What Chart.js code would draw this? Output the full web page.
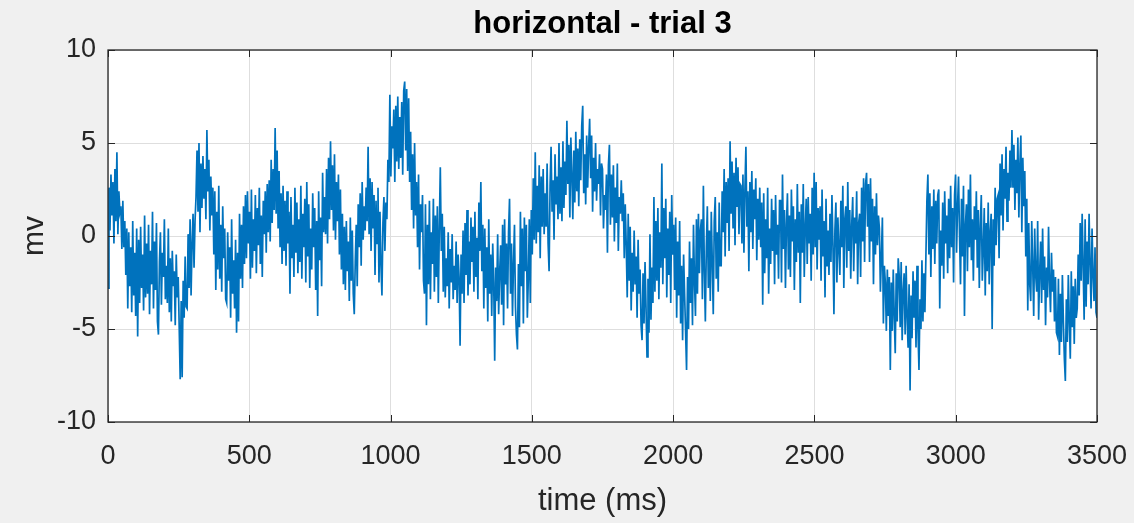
<!DOCTYPE html>
<html>
<head>
<meta charset="utf-8">
<title>horizontal - trial 3</title>
<script src="https://cdn.jsdelivr.net/npm/chart.js@4/dist/chart.umd.min.js"></script>
<style>
  html, body { margin: 0; padding: 0; background: #f0f0f0; }
  #wrap { width: 1134px; height: 523px; }
</style>
</head>
<body>
<div id="wrap"><canvas id="trial"></canvas></div>
<script>
// EOG channel, horizontal, trial 3 -- one sample every 3.5 ms, values in mV
// (each row below covers 70 ms)
const sampleMs = 3.5;
const mv = [
  -2.8, 2.6, 0.3, 3.3, 1.1, 2.9, -0.4, 3.6, 0.8, 4.5, 0.1, 2.4, 1.3, 1.6, -0.7, 1.9, -0.6, 0.8, -2.1, 0.4,
  -3.9, 0.2, -2.7, -0.6, -4.1, 0.8, -3.2, -0.9, -4.3, 0.4, -5.4, -0.2, -3.6, 0.5, -2.8, -1.0, -4.0, 1.1, -3.3, -0.4,
  -3.1, 0.6, -4.2, -0.8, -2.6, 1.3, -3.9, -0.3, -2.9, 0.7, -4.6, -5.3, -1.4, 0.2, -3.7, -0.9, -2.2, 0.9, -3.4, -1.6,
  -3.6, 0.4, -4.1, -1.2, -4.6, -0.8, -2.7, -1.9, -4.8, -1.0, -3.3, -2.2, -4.9, -7.7, -3.5, -7.6, -2.4, -4.4, -1.1, -3.8,
  -3.9, 0.1, -2.8, 0.9, -3.2, -0.4, 1.2, -1.7, 0.8, 2.1, 4.6, 1.3, 5.0, 0.2, 3.9, 1.5, 4.3, 2.0, 3.6, 0.9,
  5.7, 2.4, 4.1, 0.3, 3.2, 1.1, 2.6, -1.0, 2.4, -2.9, 1.3, -1.8, 2.7, -2.3, 0.6, -3.0, 1.6, -1.2, 0.4, -3.4,
  -3.6, 0.2, -2.4, -0.6, -4.4, 0.9, -3.1, -1.3, -3.9, -0.2, -5.2, -0.9, -4.6, 1.2, -2.3, 0.6, -2.8, 1.6, -1.5, 2.2,
  -1.2, 2.4, -0.4, 1.3, -2.3, 2.5, -1.7, 0.9, -0.8, 2.2, -2.0, 1.5, -0.5, 2.6, -1.5, 1.1, -2.2, 1.9, 0.1, 2.4,
  -0.9, 2.8, 0.2, 3.0, -0.3, 4.1, 0.7, 3.6, 1.4, 5.8, 1.2, 4.6, 0.4, 3.5, -0.6, 2.3, -1.5, 2.7, -0.8, 1.9,
  -1.6, 2.4, -0.4, 1.3, -3.1, 2.1, -1.2, 0.6, -2.2, 2.6, -0.9, 1.8, -2.0, 0.9, -1.4, 2.7, -2.3, 1.2, -0.6, 2.0,
  -2.5, 2.9, -1.1, 1.7, -2.8, 0.4, -1.8, 2.3, -0.6, 1.5, -2.9, 0.8, -4.3, 2.4, -1.3, 1.0, -2.7, 3.4, 0.2, 2.1,
  0.1, 3.6, -0.4, 4.2, 0.9, 5.1, 1.4, 3.8, 0.3, 4.4, -0.2, 2.9, 0.8, 3.3, -1.0, 2.5, -1.8, 1.2, -2.6, 0.5,
  -2.9, 0.8, -1.9, -0.3, -3.5, 1.0, -2.4, 0.3, -3.1, -4.2, -1.4, 0.6, -2.7, 1.7, -0.6, 2.3, -1.6, 2.9, -0.2, 1.6,
  0.3, 2.6, 0.8, 4.8, 0.1, 3.1, -0.8, 2.9, 0.4, 2.2, -2.1, 1.9, -0.4, 2.6, -2.5, 1.3, -1.6, -3.2, 0.7, 2.1,
  -0.8, 1.8, 0.9, 4.1, 2.9, 7.6, 3.2, 5.9, 4.7, 6.8, 2.9, 7.0, 4.0, 7.5, 3.6, 6.4, 4.2, 7.2, 3.3, 7.8,
  8.3, 4.6, 7.9, 3.5, 7.4, 2.9, 5.6, 1.4, 4.4, 0.4, 5.0, 1.1, 2.9, -0.6, 3.3, -1.8, 1.7, 0.2, 2.2, -2.4,
  -3.1, 1.7, -4.8, 0.6, -2.6, 1.9, -3.4, 0.2, -1.5, 2.0, -3.0, 1.1, -2.2, 1.6, -3.6, 0.4, 3.7, -0.8, 1.2, -3.0,
  0.5, -3.3, -1.2, -2.7, 0.2, -3.9, -0.7, -2.5, 0.1, -3.4, -1.6, -2.9, -0.3, -3.6, -1.0, -2.2, -5.9, -1.0, -3.1, 0.3,
  -3.6, 0.7, -2.1, 1.4, -3.2, -0.3, -2.6, 1.0, -1.4, 0.5, -3.0, 1.3, -2.2, -0.1, -3.4, 1.8, -0.8, 2.9, -1.9, 0.6,
  -3.9, 0.4, -2.8, -0.6, -4.6, 0.9, -3.1, -1.0, -4.3, -0.4, -2.5, -6.7, -1.7, -3.5, 0.1, -4.2, -2.0, -0.5, -3.7, 0.6,
  -4.8, 0.9, -2.6, -0.4, -3.9, 0.2, 2.0, -3.1, -0.4, -4.3, -1.5, 0.6, -3.8, -5.3, -6.1, -1.5, -4.9, 1.3, -2.7, 0.4,
  -4.7, 1.0, -1.9, 0.6, -4.4, -2.3, 0.9, -3.6, 1.4, -1.0, 3.1, -0.2, 4.5, -0.4, 2.7, 0.2, 3.8, -1.2, 3.2, 0.5,
  3.6, 0.1, 2.3, 0.5, 3.9, -0.4, -1.9, 2.7, 4.8, 1.3, 3.0, -0.2, 4.4, 1.7, 3.2, 0.9, 5.0, 1.2, 3.7, 0.8,
  5.1, 1.5, 4.0, 2.2, 6.2, 2.8, 4.9, 1.0, 5.3, 3.3, 0.9, 4.6, 1.8, 5.6, 2.4, 4.7, 1.6, 5.2, 3.0, 5.9,
  7.0, 2.3, 4.4, 1.7, 5.4, 2.6, 4.8, 6.3, 3.1, 5.4, 1.3, 4.2, 2.4, 5.0, 1.9, 3.6, 2.8, 4.4, 1.1, 3.9,
  3.6, 0.4, 2.2, 1.4, 3.3, -0.9, 3.8, 4.9, 0.6, 3.3, 1.0, 3.8, -0.3, 2.6, 0.7, 3.9, -0.8, 2.1, 1.2, 3.0,
  0.8, 2.3, -1.2, 1.7, -0.5, -3.3, 1.2, -2.4, 0.5, -4.0, -0.9, -3.0, 0.3, -2.6, -1.1, -4.4, -0.2, -3.1, -1.8, -4.8,
  -5.6, -2.0, -4.7, -1.4, -3.8, -6.5, -2.3, -5.2, 0.1, -4.5, -1.7, -3.6, 2.1, -3.0, 0.8, -2.4, 1.5, -3.4, 0.2, -1.7,
  3.9, -2.6, 1.5, -1.2, 2.0, -3.3, 0.4, -2.1, 1.3, -3.6, 2.2, -1.0, 0.6, -2.9, 1.0, -4.4, -0.3, -3.2, 0.8, -4.7,
  -1.6, -5.6, -1.0, -3.1, -5.1, -7.2, -2.2, -5.0, -0.3, -3.6, -1.2, -4.8, 0.6, -2.4, -4.3, 0.9, -3.1, 1.2, -2.0, 0.3,
  0.9, -3.4, 2.7, -1.9, -4.6, -0.6, 1.6, -2.8, 0.3, -3.5, 1.3, -1.4, -4.2, 0.8, 2.1, -2.3, 0.2, -3.0, 1.8, -1.6,
  -1.6, 2.4, 0.2, 3.6, -1.1, 2.9, 0.7, 3.1, -0.8, 5.1, 1.2, 4.0, 0.4, 3.4, -0.5, 4.2, 1.6, 3.7, 0.1, 2.8,
  2.7, -0.4, 3.3, -0.9, 2.5, 4.8, 0.5, 2.4, -1.9, 2.9, 0.2, 3.5, -0.7, 2.5, 0.9, 3.1, -1.3, 2.0, -0.2, 2.6,
  -0.6, 1.8, -3.7, 2.3, -2.0, 0.9, -1.2, 2.6, -3.1, 0.4, -1.5, 2.0, -0.8, 1.4, -2.6, 2.2, -1.0, 0.6, -2.3, 1.9,
  1.9, -2.5, 3.3, -0.7, 1.4, -2.8, 0.6, 2.3, -1.8, 1.1, -2.2, 2.5, -0.3, 1.6, -2.9, 0.9, -1.4, 2.8, -0.9, 1.3,
  -3.6, 1.7, -0.9, 2.8, -2.2, 0.4, 2.0, -1.5, 2.1, -0.4, 1.2, -2.4, 2.6, -1.0, 3.4, -0.6, 2.9, -1.8, 1.5, -0.2,
  1.6, -2.4, 2.5, -1.1, 0.8, -3.3, 2.0, -1.6, 0.3, -2.1, 1.2, -1.4, 2.2, -0.5, -4.2, 0.3, 1.8, -2.5, 1.0, -0.7,
  -2.1, 1.9, -0.6, 2.7, -2.8, 0.9, 1.6, -1.7, 2.9, -0.8, 1.4, -2.3, 0.6, 2.1, -1.9, 1.0, -0.4, 2.4, -2.6, 0.7,
  1.2, -2.2, 2.6, -0.3, 3.1, -1.4, 2.8, 3.4, 0.5, 2.8, -1.4, 3.1, -0.3, 2.0, -2.6, 1.6, -1.0, 2.3, -0.5, 1.1,
  0.4, -3.0, -1.1, 1.0, -4.7, -1.6, -2.5, -5.1, -1.8, -4.3, -2.2, -7.2, -2.5, -5.1, -1.8, -4.3, -6.3, -2.0, -4.6, -1.2,
  -2.1, -4.9, -1.4, -5.6, -3.0, -2.0, -5.3, -1.6, -4.4, -6.0, -2.6, -8.3, -3.2, -5.5, -1.9, -4.4, -2.4, -6.0, -1.6, -5.1,
  -7.2, -3.4, -5.0, -1.3, -4.6, -2.0, -4.1, -1.1, 1.9, 3.3, -1.0, 2.3, -2.2, 1.6, -0.7, 2.5, -1.5, 1.9, -0.4, 2.2,
  2.5, -3.9, 0.3, -1.6, 1.8, -2.3, 2.4, -0.4, 1.1, -2.0, 2.0, -1.2, 2.7, -0.6, 1.5, -2.5, 2.2, 3.3, -0.9, 1.6,
  3.2, 0.1, -2.6, 2.0, -1.1, 2.7, -4.3, 0.6, 1.7, -1.9, 2.5, -0.6, 3.3, -1.3, 0.9, -2.4, 1.6, -0.2, 2.4, -1.7,
  1.4, -2.8, 0.5, 2.2, -2.4, -0.8, 1.5, -3.2, 0.7, -1.9, 1.8, -2.6, 0.2, 1.2, -5.0, 0.9, -1.6, 2.6, -0.5, 2.0,
  2.2, -1.2, 3.9, 1.1, 4.4, 0.3, 3.6, 2.0, 4.8, 0.8, 3.4, 1.9, 4.6, 2.6, 5.7, 2.6, 4.9, 1.4, 4.1, 2.3,
  5.3, 1.0, 3.8, 5.4, 0.2, 4.2, 1.6, 3.5, -1.1, 2.0, -4.0, 0.7, -2.6, -3.5, 0.8, -1.6, -4.3, 0.4, -2.1, -3.0,
  0.8, -4.5, -2.0, -0.3, -3.6, 0.4, -2.9, -1.1, -4.8, -1.7, -3.3, 0.5, -2.4, -4.1, -0.9, -3.0, -1.8, -4.6, -2.2, -5.2,
  -5.4, -2.3, -6.4, -3.1, -5.7, -2.1, -4.6, -6.6, -7.8, -3.4, -5.7, -2.1, -4.6, -6.6, -1.9, -4.9, -2.7, -5.8, -2.3, -4.4,
  -3.9, -1.0, -3.2, 0.7, -2.4, 1.2, -1.6, -4.5, 0.9, -3.8, -0.3, -2.6, 1.2, -1.5, -3.9, 0.4, -2.1, -3.5, -0.6, -4.1,
  -4.4
];
const xTicks = [0, 500, 1000, 1500, 2000, 2500, 3000, 3500];
const yTicks = [-10, -5, 0, 5, 10];
const titleText = 'horizontal - trial 3';

const points = mv.map((v, i) => ({ x: i * sampleMs, y: v }));

const axisColor = '#262626';
const fontFamily = '"Liberation Sans", Arial, Helvetica, sans-serif';

// plain numbers on the ticks, no thousands separator
const tickText = v => String(v);

// white axes background, the box with inward ticks, and the title centred over the axes
const matlabAxes = {
  id: 'matlabAxes',
  beforeDraw(chart) {
    const { ctx, chartArea: a } = chart;
    ctx.save();
    ctx.fillStyle = '#ffffff';
    ctx.fillRect(a.left, a.top, a.right - a.left, a.bottom - a.top);
    ctx.restore();
  },
  afterDraw(chart) {
    const { ctx, chartArea: a, scales } = chart;
    const len = 7;
    ctx.save();
    ctx.strokeStyle = axisColor;
    ctx.lineWidth = 1;
    ctx.beginPath();
    xTicks.forEach(t => {
      const x = Math.round(scales.x.getPixelForValue(t)) + 0.5;
      ctx.moveTo(x, a.bottom); ctx.lineTo(x, a.bottom - len);
      ctx.moveTo(x, a.top); ctx.lineTo(x, a.top + len);
    });
    yTicks.forEach(t => {
      const y = Math.round(scales.y.getPixelForValue(t)) + 0.5;
      ctx.moveTo(a.left, y); ctx.lineTo(a.left + len, y);
      ctx.moveTo(a.right, y); ctx.lineTo(a.right - len, y);
    });
    ctx.stroke();
    ctx.lineWidth = 1.3;
    ctx.strokeRect(a.left, a.top, a.right - a.left, a.bottom - a.top);

    ctx.fillStyle = '#000000';
    ctx.font = 'bold 31px ' + fontFamily;
    ctx.textAlign = 'center';
    ctx.textBaseline = 'alphabetic';
    ctx.fillText(titleText, (a.left + a.right) / 2, 33);
    ctx.restore();
  }
};

new Chart(document.getElementById('trial'), {
  type: 'line',
  data: {
    datasets: [{
      data: points,
      borderColor: '#0072bd',
      borderWidth: 1.7,
      pointRadius: 0,
      tension: 0,
      fill: false
    }]
  },
  options: {
    responsive: true,
    maintainAspectRatio: false,
    animation: false,
    events: [],
    layout: { padding: { top: 50, right: 37, bottom: 0, left: 0 } },
    plugins: {
      legend: { display: false },
      tooltip: { enabled: false },
      title: { display: false }
    },
    scales: {
      x: {
        type: 'linear',
        min: 0,
        max: 3500,
        afterBuildTicks: s => { s.ticks = xTicks.map(v => ({ value: v })); },
        afterFit: s => { s.height = 101; s.paddingLeft = 0; s.paddingRight = 0; },
        grid: { color: '#dedede', lineWidth: 1, drawTicks: false },
        border: { display: false },
        ticks: {
          color: axisColor,
          padding: 18,
          maxRotation: 0,
          font: { family: fontFamily, size: 27 },
          callback: tickText
        },
        title: {
          display: true,
          text: 'time (ms)',
          color: axisColor,
          font: { family: fontFamily, size: 31 },
          padding: { top: 0, bottom: 3 }
        }
      },
      y: {
        type: 'linear',
        min: -10,
        max: 10,
        afterBuildTicks: s => { s.ticks = yTicks.map(v => ({ value: v })); },
        afterFit: s => { s.width = 108; s.paddingTop = 0; s.paddingBottom = 0; },
        grid: { color: '#dedede', lineWidth: 1, drawTicks: false },
        border: { display: false },
        ticks: {
          color: axisColor,
          padding: 12,
          font: { family: fontFamily, size: 27 },
          callback: tickText
        },
        title: {
          display: true,
          text: 'mv',
          color: axisColor,
          font: { family: fontFamily, size: 30 },
          padding: { top: 17, bottom: 0 }
        }
      }
    }
  },
  plugins: [matlabAxes]
});
</script>
</body>
</html>
